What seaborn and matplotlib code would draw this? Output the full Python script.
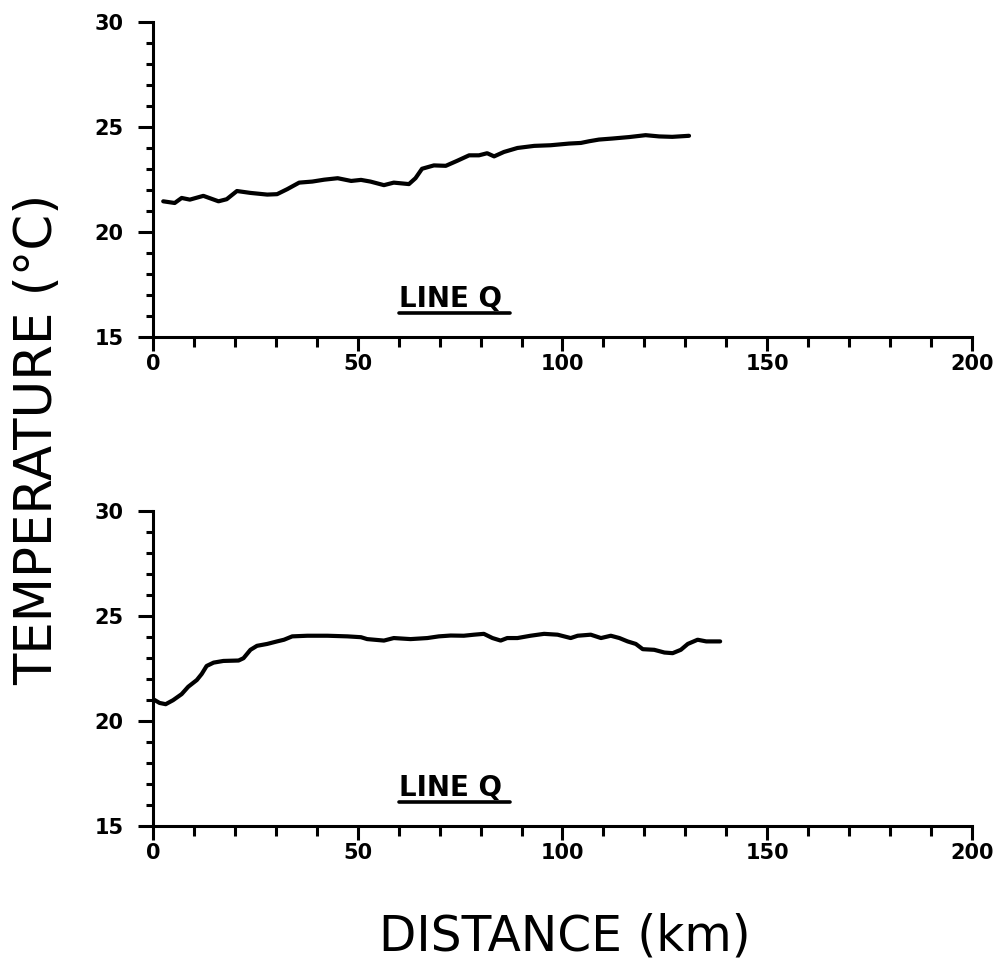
import pandas as pd
import matplotlib
matplotlib.use('Agg')
import matplotlib.pyplot as plt
from matplotlib.ticker import MultipleLocator
from matplotlib.lines import Line2D
import seaborn as sns

# temperature along line Q, two passes
top_km = [2.5, 5.3, 7.0, 9.0, 12.3, 16.0, 18.0, 20.5, 23.8, 27.9, 30.3, 32.8,
          35.7, 38.9, 41.8, 45.1, 48.4, 50.8, 53.1, 56.4, 58.8, 62.5, 64.1,
          65.7, 68.6, 71.5, 74.3, 77.2, 79.6, 81.6, 83.3, 85.7, 89.0, 93.1,
          97.1, 101.6, 104.5, 106.5, 108.9, 112.2, 116.3, 120.3, 123.6,
          126.8, 130.9]
top_temp = [21.46, 21.38, 21.62, 21.54, 21.72, 21.46, 21.56, 21.95, 21.86,
            21.78, 21.80, 22.04, 22.35, 22.40, 22.49, 22.56, 22.43, 22.48,
            22.40, 22.23, 22.35, 22.28, 22.56, 23.01, 23.17, 23.15, 23.39,
            23.65, 23.65, 23.75, 23.60, 23.81, 24.00, 24.10, 24.13, 24.21,
            24.24, 24.32, 24.40, 24.45, 24.52, 24.61, 24.55, 24.53, 24.58]

bot_km = [0.2, 1.6, 3.1, 4.9, 7.0, 8.6, 10.7, 11.9, 13.1, 14.8, 17.2, 20.9,
          22.1, 23.8, 25.4, 27.9, 30.3, 32.0, 34.0, 37.7, 42.6, 47.5, 50.8,
          52.3, 56.4, 58.8, 62.9, 67.0, 69.8, 72.7, 75.9, 78.4, 80.8, 82.9,
          84.9, 86.5, 89.0, 92.2, 95.5, 98.8, 102.0, 103.7, 106.9, 109.4,
          111.8, 113.9, 115.9, 117.9, 119.6, 122.4, 124.9, 126.9, 128.9,
          130.6, 133.0, 135.1, 138.5]
bot_temp = [21.02, 20.86, 20.80, 20.99, 21.28, 21.63, 21.95, 22.24, 22.62,
            22.78, 22.86, 22.88, 22.99, 23.39, 23.58, 23.67, 23.79, 23.87,
            24.03, 24.06, 24.06, 24.03, 23.99, 23.90, 23.83, 23.95, 23.90,
            23.95, 24.03, 24.07, 24.06, 24.11, 24.15, 23.95, 23.83, 23.95,
            23.95, 24.06, 24.15, 24.11, 23.95, 24.06, 24.11, 23.95, 24.06,
            23.95, 23.79, 23.67, 23.42, 23.39, 23.26, 23.23, 23.39, 23.67,
            23.87, 23.79, 23.79]

line_label = 'LINE Q'
x_ticks = [0, 50, 100, 150, 200]
y_ticks = [15, 20, 25, 30]

sns.set_style('ticks')
plt.rcParams['font.family'] = ['DejaVu Sans']
plt.rcParams['text.color'] = 'black'

tick_font = dict(weight='bold', size=15, color='black')

fig = plt.figure(figsize=(9.96, 9.6), dpi=100)
ax_top = fig.add_axes([0.1536, 0.6490, 0.8223, 0.3281])
ax_bot = fig.add_axes([0.1536, 0.1396, 0.8223, 0.3281])

labels = []
panels = [(ax_top, top_km, top_temp), (ax_bot, bot_km, bot_temp)]
for ax, km, temp in panels:
    df = pd.DataFrame({'km': km, 'temp': temp})
    sns.lineplot(data=df, x='km', y='temp', ax=ax, color='black',
                 linewidth=3.0, sort=False)
    ax.set_xlim(0, 200)
    ax.set_ylim(15, 30)
    ax.set_xticks(x_ticks)
    ax.set_yticks(y_ticks)
    ax.xaxis.set_minor_locator(MultipleLocator(10))
    ax.yaxis.set_minor_locator(MultipleLocator(1))
    ax.set_xticklabels([str(v) for v in x_ticks], fontdict=tick_font)
    ax.set_yticklabels([str(v) for v in y_ticks], fontdict=tick_font)
    ax.tick_params(axis='both', which='both', width=2.2, color='black')
    ax.tick_params(axis='x', which='major', length=10, pad=2)
    ax.tick_params(axis='x', which='minor', length=7)
    ax.tick_params(axis='y', which='major', length=11, pad=10)
    ax.tick_params(axis='y', which='minor', length=5)
    sns.despine(ax=ax)
    for side in ['left', 'bottom']:
        ax.spines[side].set_linewidth(2.2)
        ax.spines[side].set_color('black')
    ax.set_xlabel('')
    ax.set_ylabel('')
    t = ax.text(60, 16.12, line_label, fontsize=20, fontweight='bold',
                ha='left', va='bottom', color='black')
    labels.append((ax, t))

# underline the LINE Q labels
fig.canvas.draw()
renderer = fig.canvas.get_renderer()
for ax, t in labels:
    bb = t.get_window_extent(renderer).transformed(ax.transAxes.inverted())
    ax.add_line(Line2D([bb.x0, bb.x1 + 0.01], [bb.y0, bb.y0],
                       transform=ax.transAxes, color='black', linewidth=2.6))

fig.text(0.038, 0.542, 'TEMPERATURE (\u00b0C)', rotation=90, fontsize=37,
         ha='center', va='center', color='black')
fig.text(0.567, 0.0095, 'DISTANCE (km)', fontsize=35, ha='center',
         va='baseline', color='black')

fig.savefig('out.png', dpi=100, facecolor='white')
